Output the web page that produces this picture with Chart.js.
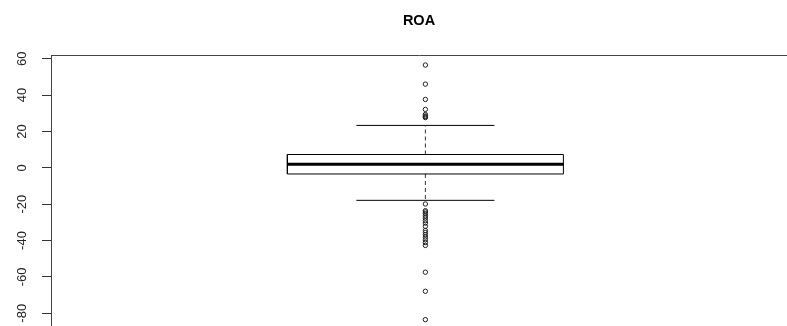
<!DOCTYPE html>
<html>
<head>
<meta charset="utf-8">
<script src="https://cdn.jsdelivr.net/npm/chart.js@4.4.1/dist/chart.umd.min.js"></script>
<style>
  html, body { margin: 0; padding: 0; background: #fff; overflow: hidden; }
  #wrap { width: 787px; height: 326px; }
</style>
</head>
<body>
<div id="wrap"><canvas id="roaChart" width="787" height="326"></canvas></div>
<script>
// values
const title = "ROA";
const boxStats = [-3.4, 1.9, 7.3];      // Q1, median, Q3
const whiskers = [-17.9, 23.3];         // lower, upper
const outliersHigh = [56.5, 46.0, 37.6, 32.1, 29.3, 28.5, 28.1, 27.6];
const outliersLow = [-19.9, -23.6, -24.3, -25.2, -26.4, -27.6, -29.1, -30.4, -32.2,
                     -34.5, -35.6, -36.8, -38.1, -39.6, -41.1, -42.7, -57.4, -67.9, -83.5];
const yTicks = [-80, -60, -40, -20, 0, 20, 40, 60];

// box geometry (x in plot units, box centred at 1)
const center = 1;
const boxHalf = 0.4;
const capHalf = 0.2;

const [q1, med, q3] = boxStats;
const [lo, hi] = whiskers;
const allOutliers = outliersHigh.concat(outliersLow);

function seg(points, extra) {
    return Object.assign({
        type: 'line',
        data: points.map(p => ({ x: p[0], y: p[1] })),
        borderColor: '#000',
        borderWidth: 1,
        pointRadius: 0,
        fill: false,
        tension: 0
    }, extra || {});
}

const datasets = [
    seg([[center - boxHalf, q1], [center + boxHalf, q1], [center + boxHalf, q3],
         [center - boxHalf, q3], [center - boxHalf, q1]]),
    seg([[center - boxHalf, med], [center + boxHalf, med]], { borderWidth: 3 }),
    seg([[center, q3], [center, hi]], { borderDash: [4, 3], borderColor: '#333' }),
    seg([[center, q1], [center, lo]], { borderDash: [4, 3], borderColor: '#333' }),
    seg([[center - capHalf, hi], [center + capHalf, hi]]),
    seg([[center - capHalf, lo], [center + capHalf, lo]]),
    {
        type: 'scatter',
        data: allOutliers.map(v => ({ x: center, y: v })),
        pointStyle: 'circle',
        pointRadius: 2.2,
        pointBorderWidth: 1,
        pointBorderColor: '#222',
        pointBackgroundColor: 'rgba(0,0,0,0)'
    }
];

new Chart(document.getElementById('roaChart').getContext('2d'), {
    type: 'scatter',
    data: { datasets: datasets },
    options: {
        responsive: false,
        animation: false,
        layout: { padding: 0, autoPadding: false },
        plugins: {
            legend: { display: false },
            tooltip: { enabled: false },
            title: {
                display: true,
                text: title,
                fullSize: false,
                color: '#000',
                font: { family: 'Liberation Sans, Arial, sans-serif', size: 14.5, weight: 'bold' },
                padding: { top: 12, bottom: 26 }
            }
        },
        scales: {
            x: {
                type: 'linear',
                position: 'top',
                min: -0.085,
                max: 2.048,
                grid: { drawOnChartArea: false, drawTicks: false },
                ticks: { display: false },
                border: { display: true, color: '#444', width: 1 },
                afterFit: s => { s.height = 0; s.paddingLeft = 0; s.paddingRight = 0; }
            },
            y: {
                type: 'linear',
                min: -87,
                max: 61.8,
                afterBuildTicks: s => { s.ticks = yTicks.map(v => ({ value: v })); },
                ticks: {
                    includeBounds: false,
                    minRotation: 90,
                    maxRotation: 90,
                    crossAlign: 'center',
                    padding: 10.6,
                    color: '#222',
                    font: { family: 'Liberation Sans, Arial, sans-serif', size: 13 }
                },
                grid: { drawOnChartArea: false, drawTicks: true, tickLength: 9, color: '#333' },
                border: { display: true, color: '#444', width: 1 },
                afterFit: s => { s.width = 51; s.paddingTop = 0; s.paddingBottom = 0; }
            }
        }
    }
});
</script>
</body>
</html>
